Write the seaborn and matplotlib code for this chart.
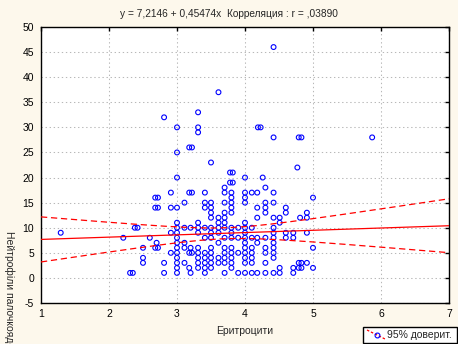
import numpy as np
import pandas as pd
import matplotlib
matplotlib.use("Agg")
import matplotlib.pyplot as plt
import seaborn as sns
from matplotlib.lines import Line2D
from matplotlib.patches import Rectangle

# Erythrocyte levels (x) and the band-neutrophil counts observed at each level (y)
ery_levels = [1.29, 2.21, 2.31, 2.35, 2.38, 2.42, 2.50, 2.60, 2.68, 2.72, 2.70,
              2.81, 2.91, 3.00, 3.11, 3.18, 3.22, 3.20, 3.31, 3.41, 3.50,
              3.61, 3.70, 3.78, 3.82, 3.80, 3.90, 4.00, 4.10, 4.18, 4.19,
              4.23, 4.26, 4.30, 4.42, 4.51, 4.60, 4.71, 4.77, 4.79, 4.83,
              4.81, 4.91, 5.00, 5.87]
neut_groups = [
    [9], [8], [1], [1], [10], [10], [6, 4, 3], [8],
    [16, 14, 6], [16, 14, 6], [7],
    [32, 3, 1], [17, 14, 9, 5],
    [30, 25, 20, 14, 11, 10, 9, 8, 7, 6, 5, 4, 3, 2, 1],
    [15, 10, 7, 6, 3],
    [26, 17, 5, 2], [26, 17, 5], [10, 6, 1],
    [33, 30, 29, 11, 10, 9, 6, 5, 4, 3, 2],
    [17, 15, 14, 10, 8, 5, 4, 3, 2, 1],
    [23, 15, 14, 13, 12, 10, 9, 8, 6, 5, 4, 3, 2],
    [37, 12, 11, 10, 9, 7, 4, 3],
    [18, 17, 15, 13, 12, 11, 10, 8, 6, 5, 4, 3, 1],
    [21, 19], [21, 19],
    [17, 16, 15, 14, 13, 10, 9, 8, 6, 5, 4, 3, 2],
    [10, 8, 5, 1],
    [20, 17, 16, 15, 11, 10, 9, 8, 7, 6, 5, 4, 3, 1],
    [17, 10, 8, 6, 5, 4, 3, 1],
    [17, 14, 12, 8, 7, 1],
    [30], [30], [20],
    [18, 15, 14, 13, 8, 6, 5, 3, 1],
    [46, 28, 17, 15, 12, 10, 9, 8, 7, 6, 5, 4, 1],
    [12, 11, 2, 1],
    [14, 13, 9, 8],
    [9, 8, 2, 1],
    [22], [28, 3, 2], [28, 3, 2], [12],
    [13, 12, 9, 3],
    [16, 6, 2],
    [28],
]

# Fitted regression stated in the title
intercept = 7.2146
slope = 0.45474

x_ticks = [1, 2, 3, 4, 5, 6, 7]
y_ticks = [-5, 0, 5, 10, 15, 20, 25, 30, 35, 40, 45, 50]

title_text = "y = 7,2146 + 0,45474x  Корреляция : r = ,03890"
x_label = "Еритроцити"
y_label = "Нейтрофіли палочкоядерні"
legend_text = "95% доверит."

erythrocytes = [x for x, ys in zip(ery_levels, neut_groups) for _ in ys]
neutrophils = [y for ys in neut_groups for y in ys]
df = pd.DataFrame({"ery": erythrocytes, "neut": neutrophils})

sns.set_theme(style="white")
plt.rcParams["font.family"] = ["Liberation Sans", "DejaVu Sans"]
plt.rcParams["axes.unicode_minus"] = False

W, H = 458, 344
bg = "#fdf8ec"
fig = plt.figure(figsize=(W / 100, H / 100), dpi=100, facecolor=bg)
ax = fig.add_axes([41 / W, 1 - 303 / H, 408 / W, 276 / H])
ax.set_facecolor("white")

# Scatter of observations
sns.scatterplot(data=df, x="ery", y="neut", ax=ax, marker="o", s=12,
                facecolor="none", edgecolor="#0000ff", linewidth=0.8,
                zorder=3, legend=False)

# Regression line and 95% confidence band
xs = np.linspace(1, 7, 300)
fit = intercept + slope * xs
xa = np.asarray(erythrocytes, dtype=float)
ya = np.asarray(neutrophils, dtype=float)
n = len(xa)
resid = ya - (intercept + slope * xa)
s_err = np.sqrt(np.sum(resid ** 2) / (n - 2))
sxx = np.sum((xa - xa.mean()) ** 2)
half = 1.9727 * s_err * np.sqrt(1 / n + (xs - xa.mean()) ** 2 / sxx)

ax.plot(xs, fit, color="#ff0000", lw=0.9, zorder=4)
ax.plot(xs, fit + half, color="#ff0000", lw=0.9, ls=(0, (5, 3)), zorder=4)
ax.plot(xs, fit - half, color="#ff0000", lw=0.9, ls=(0, (5, 3)), zorder=4)

ax.set_xlim(1, 7)
ax.set_ylim(-5, 50)
ax.set_xticks(x_ticks)
ax.set_yticks(y_ticks)
ax.set_xticklabels([str(t) for t in x_ticks])
ax.set_yticklabels([str(t) for t in y_ticks])
ax.grid(True, color="#b8b8b8", linestyle=(0, (1.3, 2.6)), linewidth=0.75)
ax.set_axisbelow(True)
for sp in ax.spines.values():
    sp.set_color("black")
    sp.set_linewidth(1.0)
ax.tick_params(axis="both", direction="in", length=3, width=1, colors="black",
               top=True, right=True, labelsize=7.5)
ax.tick_params(axis="x", pad=4.5)
ax.tick_params(axis="y", pad=5)
ax.set_xlabel("")
ax.set_ylabel("")

fig.text(229 / W, 1 - 14 / H, title_text, ha="center", va="center", fontsize=7.3)
fig.text(245 / W, 1 - 331 / H, x_label, ha="center", va="center", fontsize=7.5)
fig.text(9 / W, 1 - 231 / H, y_label, ha="center", va="top", rotation=-90,
         fontsize=7.5)

# Legend box below the plot, bottom right
fig.add_artist(Rectangle((363 / W, 1 - 343 / H), 94 / W, 16 / H,
                         transform=fig.transFigure, facecolor="white",
                         edgecolor="black", lw=1))
fig.add_artist(Line2D([367 / W, 385 / W], [1 - 330 / H, 1 - 339 / H],
                      transform=fig.transFigure, color="#ff0000", lw=0.9,
                      ls=(0, (2, 1.5))))
fig.add_artist(Line2D([376.5 / W], [1 - 334.5 / H], transform=fig.transFigure,
                      marker="o", ms=3.5, mfc="none", mec="#0000ff", mew=0.8,
                      ls="none"))
fig.text(387 / W, 1 - 335 / H, legend_text, ha="left", va="center", fontsize=7.5)

fig.savefig("out.png", dpi=100, facecolor=bg)
